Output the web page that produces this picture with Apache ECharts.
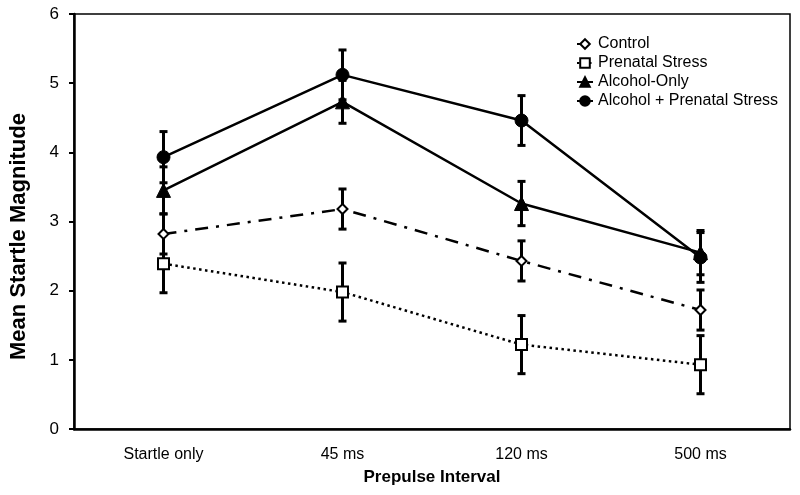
<!DOCTYPE html>
<html>
<head>
<meta charset="utf-8">
<script src="https://cdn.jsdelivr.net/npm/echarts@6/dist/echarts.min.js"></script>
<style>html,body{margin:0;padding:0;background:#fff}#c{width:800px;height:495px}</style>
</head>
<body>
<div id="c"></div>
<script>
const categories = ['Startle only', '45 ms', '120 ms', '500 ms'];
const yTicks = [0, 1, 2, 3, 4, 5, 6];
const seriesNames = ['Control', 'Prenatal Stress', 'Alcohol-Only', 'Alcohol + Prenatal Stress'];
const controlMean = [2.82, 3.18, 2.43, 1.72];
const controlErr = [0.29, 0.29, 0.29, 0.29];
const prenatalMean = [2.39, 1.98, 1.22, 0.93];
const prenatalErr = [0.42, 0.42, 0.42, 0.42];
const alcoholMean = [3.45, 4.73, 3.26, 2.55];
const alcoholErr = [0.34, 0.31, 0.32, 0.32];
const alcoholStressMean = [3.93, 5.12, 4.46, 2.48];
const alcoholStressErr = [0.37, 0.36, 0.36, 0.36];

const FONT = "'Liberation Sans', Arial, sans-serif";

function errData(mean, err) {
  return mean.map((m, i) => [i, m - err[i], m + err[i]]);
}

function errSeries(name, mean, err) {
  return {
    type: 'custom',
    name: name + ' err',
    data: errData(mean, err),
    encode: { x: 0, y: [1, 2] },
    z: 1,
    silent: true,
    renderItem: function (params, api) {
      const x = api.value(0);
      const lo = api.coord([x, api.value(1)]);
      const hi = api.coord([x, api.value(2)]);
      const hw = 4;
      const st = { stroke: '#000', lineWidth: 3 };
      return {
        type: 'group',
        children: [
          { type: 'line', shape: { x1: lo[0], y1: lo[1], x2: hi[0], y2: hi[1] }, style: st },
          { type: 'line', shape: { x1: lo[0] - hw, y1: lo[1], x2: lo[0] + hw, y2: lo[1] }, style: st },
          { type: 'line', shape: { x1: hi[0] - hw, y1: hi[1], x2: hi[0] + hw, y2: hi[1] }, style: st }
        ]
      };
    }
  };
}

const chart = echarts.init(document.getElementById('c'), null, { renderer: 'canvas' });
chart.setOption({
  animation: false,
  backgroundColor: '#fff',
  grid: { left: 72, right: 10, top: 14, bottom: 66, show: true, borderColor: '#000', borderWidth: 1.5 },
  legend: {
    left: 571, top: 31, orient: 'vertical', itemWidth: 16, itemHeight: 12, itemGap: 3,
    data: seriesNames,
    textStyle: { fontFamily: FONT, fontSize: 16, color: '#000' }
  },
  xAxis: {
    type: 'category', data: categories, boundaryGap: true,
    axisLine: { lineStyle: { color: '#000', width: 2.5 } },
    axisTick: { show: false },
    axisLabel: { color: '#000', fontFamily: FONT, fontSize: 16, margin: 18 },
    name: 'Prepulse Interval', nameLocation: 'middle', nameGap: 40,
    nameTextStyle: { color: '#000', fontFamily: FONT, fontSize: 17, fontWeight: 'bold' }
  },
  yAxis: {
    type: 'value', min: yTicks[0], max: yTicks[yTicks.length - 1], interval: 1,
    axisLine: { show: true, lineStyle: { color: '#000', width: 2.5 } },
    axisTick: { show: true, length: 5, lineStyle: { color: '#000', width: 2 } },
    axisLabel: { color: '#000', fontFamily: FONT, fontSize: 17, margin: 15 },
    splitLine: { show: false },
    name: 'Mean Startle Magnitude', nameLocation: 'middle', nameGap: 44, nameRotate: 90,
    nameTextStyle: { color: '#000', fontFamily: FONT, fontSize: 22, fontWeight: 'bold', padding: [0, 30, 0, 0] }
  },
  series: [
    errSeries('Control', controlMean, controlErr),
    errSeries('Prenatal Stress', prenatalMean, prenatalErr),
    errSeries('Alcohol-Only', alcoholMean, alcoholErr),
    errSeries('Alcohol + Prenatal Stress', alcoholStressMean, alcoholStressErr),
    {
      type: 'line', name: 'Control', data: controlMean, z: 3,
      symbol: 'diamond', symbolSize: 10,
      lineStyle: { color: '#000', width: 2.5, type: [13, 8, 3, 8] },
      itemStyle: { color: '#fff', borderColor: '#000', borderWidth: 2 }
    },
    {
      type: 'line', name: 'Prenatal Stress', data: prenatalMean, z: 3,
      symbol: 'rect', symbolSize: 11,
      lineStyle: { color: '#000', width: 2.5, type: [2.5, 3.5] },
      itemStyle: { color: '#fff', borderColor: '#000', borderWidth: 2 }
    },
    {
      type: 'line', name: 'Alcohol-Only', data: alcoholMean, z: 3,
      symbol: 'triangle', symbolSize: 14,
      lineStyle: { color: '#000', width: 2.5, type: 'solid' },
      itemStyle: { color: '#000', borderColor: '#000', borderWidth: 1 }
    },
    {
      type: 'line', name: 'Alcohol + Prenatal Stress', data: alcoholStressMean, z: 3,
      symbol: 'circle', symbolSize: 13,
      lineStyle: { color: '#000', width: 2.5, type: 'solid' },
      itemStyle: { color: '#000', borderColor: '#000', borderWidth: 1 }
    }
  ]
});
</script>
</body>
</html>
